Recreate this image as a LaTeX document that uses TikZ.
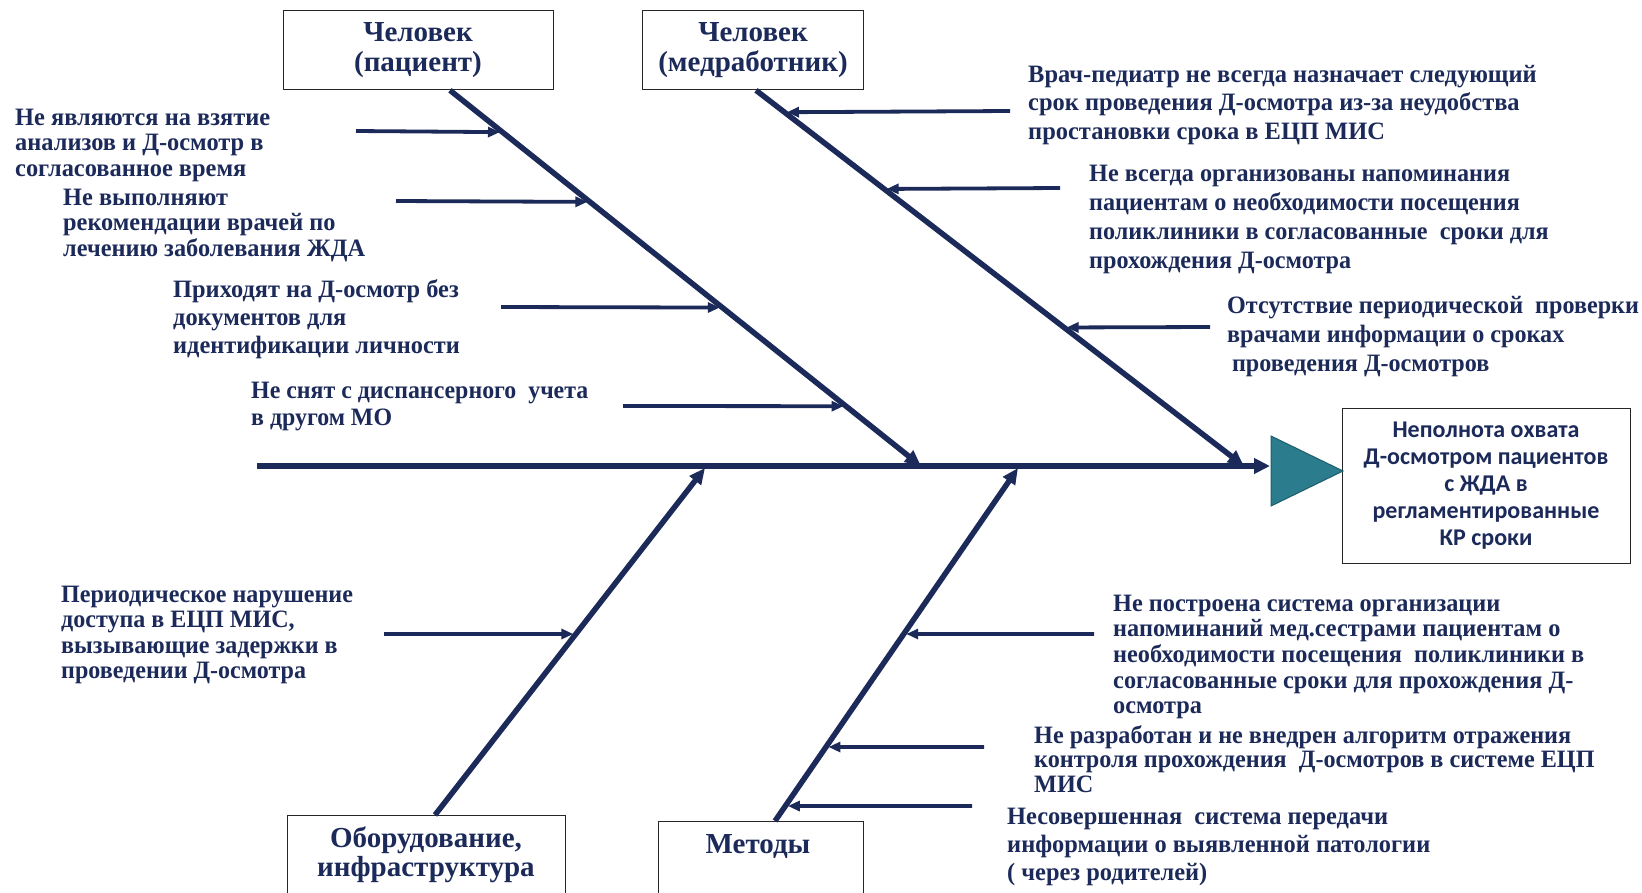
\documentclass[tikz,border=0pt]{standalone}
\usepackage{fontspec}
\usepackage{graphicx}
\setmainfont{Liberation Serif}
\newfontfamily\calib{Carlito}
\usetikzlibrary{arrows.meta,calc}
\definecolor{navy}{HTML}{1C2A5A}
\definecolor{tealfill}{HTML}{2B7C8C}
\definecolor{tealdark}{HTML}{1E5E6C}
\newcommand\lblock[4]{\scalebox{#1}[1]{\fontsize{#2}{#3}\selectfont\bfseries\begin{tabular}[t]{@{}l@{}}#4\end{tabular}}}
\newcommand\cblock[3]{\fontsize{#1}{#2}\selectfont\bfseries\begin{tabular}[t]{@{}c@{}}#3\end{tabular}}
\tikzset{
  lbl/.style={inner sep=0pt, anchor=base west, text=navy},
  clbl/.style={inner sep=0pt, anchor=base, text=navy},
  catbox/.style={draw=black!85, line width=1.3pt, fill=white, inner sep=0pt, anchor=north west, text=navy},
  spine/.style={draw=navy, line width=5.5pt, -{Triangle[length=16pt,width=15pt]}},
  bone/.style={draw=navy, line width=5.5pt, -{Triangle[length=16pt,width=14pt]}},
  rib/.style={draw=navy, line width=3.8pt, shorten >=2.5pt, -{Triangle[length=12pt,width=10pt]}}
}
\begin{document}
\begin{tikzpicture}[x=1pt,y=-1pt]
\useasboundingbox[fill=white] (0,0) rectangle (1642,892);

% category boxes
\node[catbox, minimum width=270, minimum height=79] (pac) at (283,10) {};
\node[clbl] (pact) at (418,41) {\cblock{29}{30}{Человек\\(пациент)}};
\node[catbox, minimum width=221, minimum height=79] (med) at (642,10) {};
\node[clbl] (medt) at (753,41) {\cblock{29}{30}{Человек\\(медработник)}};
\node[catbox, minimum width=278, minimum height=100] (obo) at (287,815) {};
\node[clbl] (obot) at (426,847) {\cblock{29}{29}{Оборудование,\\инфраструктура}};
\node[catbox, minimum width=205, minimum height=100] (met) at (658,821) {};
\node[clbl] (mett) at (758,853) {\cblock{29}{29}{Методы}};

% effect
\node[catbox, minimum width=288, minimum height=155] (eff) at (1342,408) {};
\node[clbl] (efft) at (1486,437) {\calib\cblock{24}{27}{Неполнота охвата\\Д-осмотром пациентов\\с ЖДА в\\регламентированные\\КР сроки}};
\filldraw[fill=tealfill, draw=tealdark, line width=1pt] (1271,436) -- (1343,471) -- (1271,506) -- cycle;

% spine
\coordinate (sp0) at (257,466);
\coordinate (sp1) at (1270,466);
\draw[spine] (sp0) -- (sp1);

% bones
\coordinate (b1s) at ($(pac.south west)+(167,0)$);
\coordinate (b1e) at (921,466);
\coordinate (b2s) at ($(med.south west)+(114,0)$);
\coordinate (b2e) at (1244,466);
\coordinate (b3s) at ($(obo.north west)+(148,0)$);
\coordinate (b3e) at (705,468);
\coordinate (b4s) at ($(met.north west)+(117,0)$);
\coordinate (b4e) at (1018,468);
\draw[bone] (b1s) -- (b1e);
\draw[bone] (b2s) -- (b2e);
\draw[bone] (b3s) -- (b3e);
\draw[bone] (b4s) -- (b4e);

% ribs branch 1
\coordinate (r11s) at (356,131); \coordinate (r11e) at ($(b1s)!{(131-89)/377}!(b1e)$);
\coordinate (r12s) at (396,201); \coordinate (r12e) at ($(b1s)!{(201-89)/377}!(b1e)$);
\coordinate (r13s) at (501,307); \coordinate (r13e) at ($(b1s)!{(307-89)/377}!(b1e)$);
\coordinate (r14s) at (623,406); \coordinate (r14e) at ($(b1s)!{(406-89)/377}!(b1e)$);
\draw[rib] (r11s) -- (r11e);
\draw[rib] (r12s) -- (r12e);
\draw[rib] (r13s) -- (r13e);
\draw[rib] (r14s) -- (r14e);
% ribs branch 2
\coordinate (r21s) at (1010,111); \coordinate (r21e) at ($(b2s)!{(111-89)/377}!(b2e)$);
\coordinate (r22s) at (1060,188); \coordinate (r22e) at ($(b2s)!{(188-89)/377}!(b2e)$);
\coordinate (r23s) at (1210,327); \coordinate (r23e) at ($(b2s)!{(327-89)/377}!(b2e)$);
\draw[rib] (r21s) -- (r21e);
\draw[rib] (r22s) -- (r22e);
\draw[rib] (r23s) -- (r23e);
% ribs branch 3
\coordinate (r31s) at (384,634); \coordinate (r31e) at ($(b3s)!{(815-634)/347}!(b3e)$);
\draw[rib] (r31s) -- (r31e);
% ribs branch 4
\coordinate (r41s) at (1094,634); \coordinate (r41e) at ($(b4s)!{(821-634)/353}!(b4e)$);
\coordinate (r42s) at (984,747); \coordinate (r42e) at ($(b4s)!{(821-747)/353}!(b4e)$);
\coordinate (r43s) at (972,806); \coordinate (r43e) at ($(b4s)!{(821-806)/353}!(b4e)$);
\draw[rib] (r41s) -- (r41e);
\draw[rib] (r42s) -- (r42e);
\draw[rib] (r43s) -- (r43e);

% cause texts
\node[lbl] (t1) at (15,125) {\lblock{0.976}{25}{25.5}{Не являются на взятие\\анализов и Д-осмотр в\\согласованное время}};
\node[lbl] (t2) at (63,205) {\lblock{0.973}{25}{25.5}{Не выполняют\\рекомендации врачей по\\лечению заболевания ЖДА}};
\node[lbl] (t3) at (173,297) {\lblock{0.975}{25}{28}{Приходят на Д-осмотр без\\документов для\\идентификации личности}};
\node[lbl] (t4) at (251,398) {\lblock{0.955}{25}{27}{Не снят с диспансерного\ \ учета\\в другом МО}};
\node[lbl] (t5) at (1028,82) {\lblock{0.978}{25}{28.5}{Врач-педиатр не всегда назначает следующий\\срок проведения Д-осмотра из-за неудобства\\простановки срока в ЕЦП МИС}};
\node[lbl] (t6) at (1089,181) {\lblock{0.967}{25}{29}{Не всегда организованы напоминания\\пациентам о необходимости посещения\\поликлиники в согласованные\ \ сроки для\\прохождения Д-осмотра}};
\node[lbl] (t7) at (1227,313) {\lblock{0.965}{25}{29}{Отсутствие периодической\ \ проверки\\врачами информации о сроках\\\hspace{5pt}проведения Д-осмотров}};
\node[lbl] (t8) at (61,602) {\lblock{0.962}{25}{25.5}{Периодическое нарушение\\доступа в ЕЦП МИС,\\вызывающие задержки в\\проведении Д-осмотра}};
\node[lbl] (t9) at (1113,611) {\lblock{0.972}{25}{25.7}{Не построена система организации\\напоминаний мед.сестрами пациентам о\\необходимости посещения\ \ поликлиники в\\согласованные сроки для прохождения Д-\\осмотра}};
\node[lbl] (t10) at (1034,743) {\lblock{0.967}{25}{24.5}{Не разработан и не внедрен алгоритм отражения\\контроля прохождения\ \ Д-осмотров в системе ЕЦП\\МИС}};
\node[lbl] (t11) at (1007,824) {\lblock{0.976}{25}{28}{Несовершенная\ \ система передачи\\информации о выявленной патологии\\( через родителей)}};
\end{tikzpicture}
\end{document}
